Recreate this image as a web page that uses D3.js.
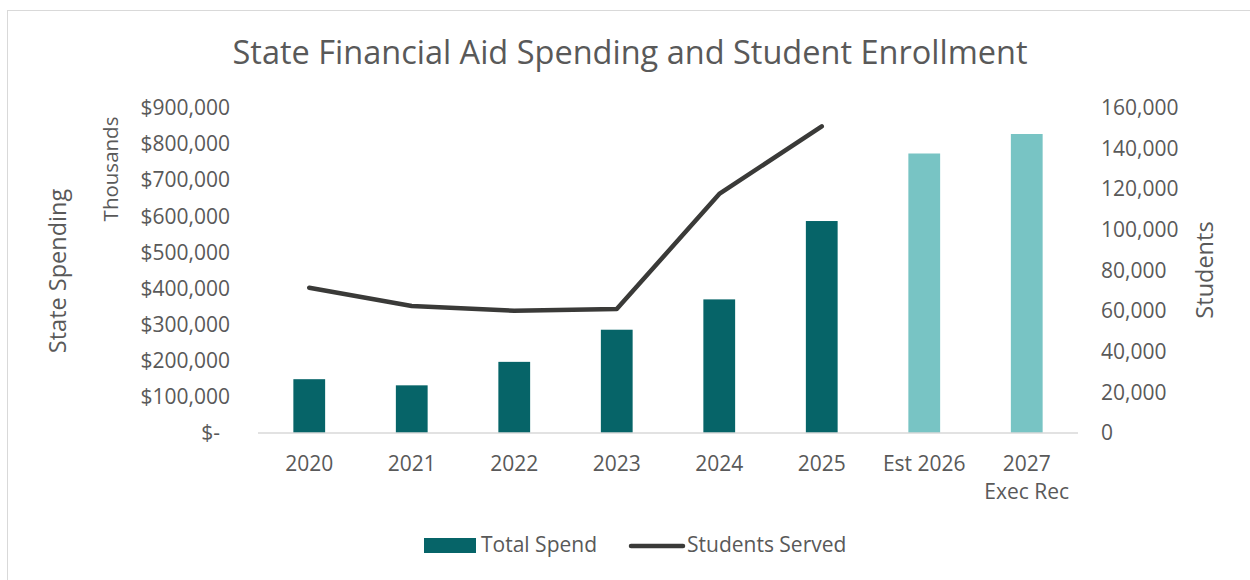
<!DOCTYPE html>
<html>
<head>
<meta charset="utf-8">
<script src="https://cdn.jsdelivr.net/npm/d3@7"></script>
<style>
  body { margin: 0; background: #fff; }
  svg text { font-family: "Open Sans", sans-serif; fill: #595959; }
</style>
</head>
<body>
<div id="chart"></div>
<script>
// categories and values
const years = ['2020', '2021', '2022', '2023', '2024', '2025', 'Est 2026', '2027 Exec Rec'];
const totalSpend = [149000, 132000, 197000, 286000, 370000, 587000, 774000, 828000]; // thousands of $
const studentsServed = [71500, 62500, 60200, 61000, 117700, 151000, null, null];
const projected = [false, false, false, false, false, false, true, true];
const spendTicks = [0, 100000, 200000, 300000, 400000, 500000, 600000, 700000, 800000, 900000];
const studentTicks = [0, 20000, 40000, 60000, 80000, 100000, 120000, 140000, 160000];

const width = 1250;
const height = 580;
const margin = {top: 108, right: 172, bottom: 147, left: 258};

const svg = d3.select('#chart').append('svg')
    .attr('width', width)
    .attr('height', height);

// chart frame
svg.append('rect')
    .attr('x', 7.5).attr('y', 10.5)
    .attr('width', width).attr('height', height)
    .attr('fill', 'none')
    .attr('stroke', '#d9d9d9')
    .attr('stroke-width', 1);

const x = d3.scaleBand()
    .domain(years)
    .range([margin.left, width - margin.right])
    .paddingInner(0.69)
    .paddingOuter(0.345);

const yLeft = d3.scaleLinear()
    .domain([0, 900000])
    .range([height - margin.bottom, margin.top]);

const yRight = d3.scaleLinear()
    .domain([0, 160000])
    .range([height - margin.bottom, margin.top]);

// title
svg.append('text')
    .attr('x', 630)
    .attr('y', 55)
    .attr('text-anchor', 'middle')
    .attr('dominant-baseline', 'middle')
    .style('font-size', '32.5px')
    .text('State Financial Aid Spending and Student Enrollment');

// bars
svg.append('g')
    .selectAll('rect')
    .data(years)
    .join('rect')
    .attr('x', d => x(d))
    .attr('width', x.bandwidth())
    .attr('y', (d, i) => yLeft(totalSpend[i]))
    .attr('height', (d, i) => yLeft(0) - yLeft(totalSpend[i]))
    .attr('fill', (d, i) => projected[i] ? '#78c4c4' : '#066468');

// baseline
svg.append('line')
    .attr('x1', margin.left).attr('x2', width - margin.right)
    .attr('y1', yLeft(0)).attr('y2', yLeft(0))
    .attr('stroke', '#d9d9d9')
    .attr('stroke-width', 1.5);

// students line
const line = d3.line()
    .defined(d => d[1] != null)
    .x(d => x(d[0]) + x.bandwidth() / 2)
    .y(d => yRight(d[1]));

svg.append('path')
    .datum(years.map((d, i) => [d, studentsServed[i]]))
    .attr('d', line)
    .attr('fill', 'none')
    .attr('stroke', '#3a3a38')
    .attr('stroke-width', 4.5)
    .attr('stroke-linecap', 'round')
    .attr('stroke-linejoin', 'round');

// left axis
const fmtMoney = v => v === 0 ? '$-' : '$' + d3.format(',')(v);
const leftAxis = svg.append('g')
    .attr('transform', `translate(${230},0)`)
    .call(d3.axisLeft(yLeft).tickValues(spendTicks).tickFormat(fmtMoney).tickSize(0).tickPadding(0));
leftAxis.select('.domain').remove();
leftAxis.selectAll('text')
    .style('font-size', '21px')
    .attr('fill', null)
    .attr('dx', (d) => d === 0 ? '-10px' : 0);

// right axis
const rightAxis = svg.append('g')
    .attr('transform', `translate(${1101},0)`)
    .call(d3.axisRight(yRight).tickValues(studentTicks).tickFormat(d3.format(',')).tickSize(0).tickPadding(0));
rightAxis.select('.domain').remove();
rightAxis.selectAll('text')
    .style('font-size', '21px')
    .attr('fill', null);

// x axis labels, wrapping the long one
const xAxis = svg.append('g')
    .attr('transform', `translate(0,${yLeft(0)})`);
xAxis.selectAll('text')
    .data(years)
    .join('text')
    .attr('x', d => x(d) + x.bandwidth() / 2)
    .attr('y', 32)
    .attr('text-anchor', 'middle')
    .style('font-size', '21px')
    .each(function (d) {
        const parts = d === '2027 Exec Rec' ? ['2027', 'Exec Rec'] : [d];
        d3.select(this).selectAll('tspan')
            .data(parts)
            .join('tspan')
            .attr('x', x(d) + x.bandwidth() / 2)
            .attr('dy', (p, i) => i === 0 ? 0 : 28)
            .attr('dominant-baseline', 'middle')
            .text(p => p);
    });

// axis titles
svg.append('text')
    .attr('transform', `translate(60,271) rotate(-90)`)
    .attr('text-anchor', 'middle')
    .attr('dominant-baseline', 'middle')
    .style('font-size', '23.5px')
    .text('State Spending');

svg.append('text')
    .attr('transform', `translate(113,169) rotate(-90)`)
    .attr('text-anchor', 'middle')
    .attr('dominant-baseline', 'middle')
    .style('font-size', '20.5px')
    .text('Thousands');

svg.append('text')
    .attr('transform', `translate(1207,270) rotate(-90)`)
    .attr('text-anchor', 'middle')
    .attr('dominant-baseline', 'middle')
    .style('font-size', '23.5px')
    .text('Students');

// legend
const legend = svg.append('g');
legend.append('rect')
    .attr('x', 424).attr('y', 538)
    .attr('width', 52).attr('height', 15)
    .attr('fill', '#066468');
legend.append('text')
    .attr('x', 481).attr('y', 546)
    .attr('dominant-baseline', 'middle')
    .style('font-size', '21px')
    .text('Total Spend');
legend.append('line')
    .attr('x1', 631).attr('x2', 683)
    .attr('y1', 546).attr('y2', 546)
    .attr('stroke', '#3a3a38')
    .attr('stroke-width', 4.5)
    .attr('stroke-linecap', 'round');
legend.append('text')
    .attr('x', 687).attr('y', 546)
    .attr('dominant-baseline', 'middle')
    .style('font-size', '21px')
    .text('Students Served');
</script>
</body>
</html>
